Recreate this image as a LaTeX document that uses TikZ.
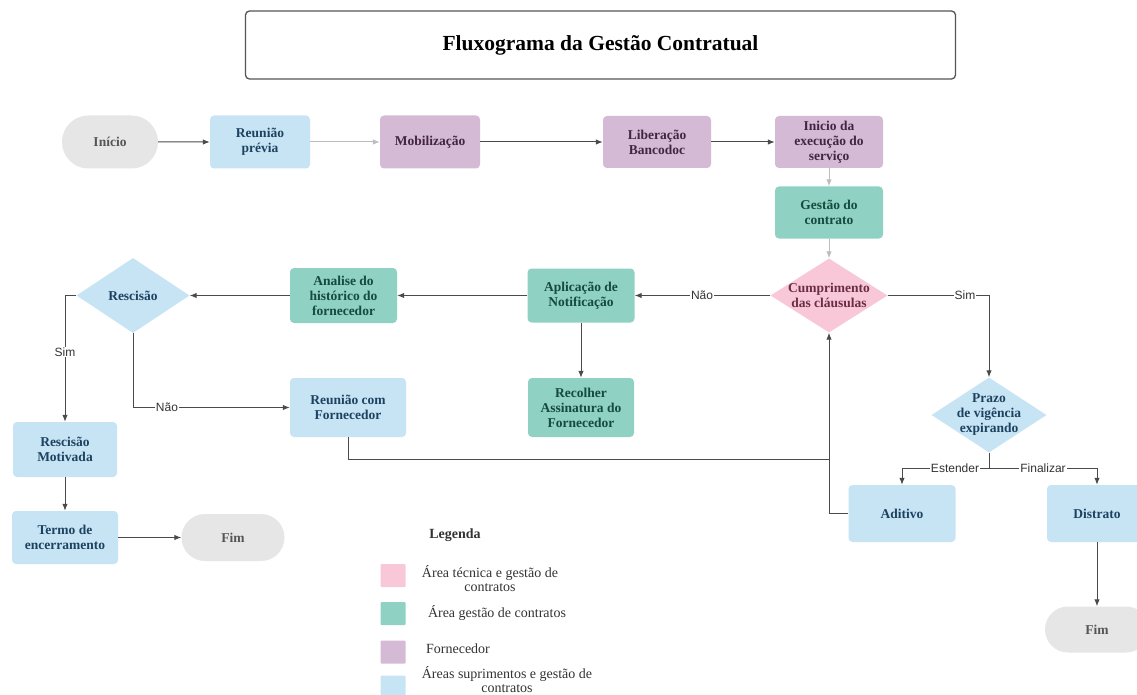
\documentclass[tikz,border=0pt]{standalone}
\usepackage{fontspec}
\setmainfont{Liberation Serif}
\newfontfamily\lblfont{Liberation Sans}
\usetikzlibrary{arrows.meta,shapes.geometric,shapes.misc}
\definecolor{cblue}{HTML}{C7E4F5}
\definecolor{cteal}{HTML}{8FD1C2}
\definecolor{cpurple}{HTML}{D4BAD4}
\definecolor{cpink}{HTML}{F8C8D8}
\definecolor{cgray}{HTML}{E6E6E6}
\definecolor{tblue}{HTML}{1D4260}
\definecolor{tteal}{HTML}{154A3E}
\definecolor{tpurple}{HTML}{432543}
\definecolor{tpink}{HTML}{6B2D45}
\definecolor{tgray}{HTML}{555555}
\definecolor{clink}{HTML}{4A4A4A}
\definecolor{csoft}{HTML}{BDBDBD}
\definecolor{ctext}{HTML}{333333}
\begin{document}
\begin{tikzpicture}[x=1pt,y=-1pt,
  nodefont/.style={font=\bfseries\fontsize{13.5}{15}\selectfont},
  card/.style={rectangle, rounded corners=4pt, inner sep=2pt, align=center, nodefont},
  sz/.style 2 args={minimum width=#1, minimum height=#2},
  bluebox/.style={card, fill=cblue, text=tblue},
  tealbox/.style={card, fill=cteal, text=tteal},
  purplebox/.style={card, fill=cpurple, text=tpurple},
  pill/.style={rounded rectangle, fill=cgray, text=tgray, nodefont, inner sep=2pt},
  dia/.style={diamond, inner sep=0pt},
  diatext/.style={align=center, nodefont, inner sep=0pt},
  link/.style={draw=clink, line width=1pt, -{Latex[length=7pt,width=5.5pt]}},
  plainline/.style={draw=clink, line width=1pt},
  softlink/.style={draw=csoft, line width=1pt, -{Latex[length=7pt,width=5.5pt]}},
  edgelabel/.style={fill=white, inner sep=1pt, font=\lblfont\fontsize{12}{12}\selectfont, text=ctext},
  legsq/.style={rectangle, rounded corners=1pt, inner sep=0pt, minimum width=25pt, minimum height=23pt},
  legtext/.style={align=center, text=ctext, font=\fontsize{14}{14}\selectfont, inner sep=0pt}
]
\path[use as bounding box] (0,0) rectangle (1137,695);
\clip (0,0) rectangle (1137,695);
\fill[white] (0,0) rectangle (1137,695);

% title
\node[draw=tgray, line width=1.3pt, rounded corners=4pt, minimum width=710pt, minimum height=68pt,
      font=\bfseries\fontsize{21.5}{23}\selectfont, text=black] (title) at (600.5,45) {Fluxograma da Gestão Contratual};

% top row
\node[pill, sz={100pt}{53pt}] (inicio) at (110,142) {Início};
\node[bluebox, sz={100pt}{53pt}] (reuniao) at (260,142) {Reunião\\prévia};
\node[purplebox, sz={100pt}{53pt}] (mobil) at (430,142) {Mobilização};
\node[purplebox, sz={108pt}{52pt}] (liber) at (657,142) {Liberação\\Bancodoc};
\node[purplebox, sz={108pt}{52pt}] (exec) at (829,142) {Inicio da\\execução do\\serviço};
\node[tealbox, sz={108pt}{52pt}] (gestao) at (829,212.5) {Gestão do\\contrato};

% decision Cumprimento
\node[dia, fill=cpink, minimum width=117pt, minimum height=74pt] (cumpr) at (829,295.5) {};
\node[diatext, text=tpink] (cumprtxt) at (829,295.5) {Cumprimento\\das cláusulas};

% middle row
\node[tealbox, sz={107pt}{54pt}] (aplic) at (581,295.5) {Aplicação de\\Notificação};
\node[tealbox, sz={107pt}{55pt}] (analise) at (343.5,295.5) {Analise do\\histórico do\\fornecedor};
\node[dia, fill=cblue, minimum width=113pt, minimum height=75pt] (resc) at (133,295.5) {};
\node[diatext, text=tblue] (resctxt) at (133,295.5) {Rescisão};

% left column
\node[bluebox, sz={104pt}{55pt}] (rmot) at (65,449.5) {Rescisão\\Motivada};
\node[bluebox, sz={106pt}{53pt}] (termo) at (65,537.5) {Termo de\\encerramento};
\node[pill, sz={107pt}{47pt}] (fimA) at (233,537.5) {Fim};

% lower middle
\node[bluebox, sz={116pt}{59pt}] (reucom) at (348,407.5) {Reunião com\\Fornecedor};
\node[tealbox, sz={106pt}{59pt}] (recolher) at (581,407.5) {Recolher\\Assinatura do\\Fornecedor};

% right side
\node[dia, fill=cblue, minimum width=115pt, minimum height=75pt] (prazo) at (989,415) {};
\node[diatext, text=tblue] (prazotxt) at (989,415) {Prazo\\de vigência\\expirando};
\node[bluebox, sz={107pt}{57pt}] (aditivo) at (902,513.5) {Aditivo};
\node[bluebox, sz={100pt}{57pt}] (distrato) at (1097,513.5) {Distrato};
\node[pill, sz={108pt}{46pt}] (fimB) at (1097,629.5) {Fim};

% junction points
\coordinate (jrc) at (829,459);
\coordinate (jpz) at (989,468);

% connectors
\draw[link] (inicio) -- (reuniao);
\draw[softlink] (reuniao) -- (mobil);
\draw[link] (mobil) -- (liber);
\draw[link] (liber) -- (exec);
\draw[softlink] (exec) -- (gestao);
\draw[softlink] (gestao) -- (cumpr);
\draw[link] (cumpr.west) -- (aplic.east);
\draw[link] (aplic.west) -- (analise.east);
\draw[link] (analise.west) -- (resc.east);
\draw[link] (resc.west) -| (rmot.north);
\draw[link] (resc.south) |- (reucom.west);
\draw[link] (aplic.south) -- (recolher.north);
\draw[plainline] (reucom.south) |- (jrc);
\draw[link] (aditivo.west) -| (cumpr.south);
\draw[link] (cumpr.east) -| (prazo.north);
\draw[plainline] (prazo.south) -- (jpz);
\draw[link] (jpz) -| (aditivo.north);
\draw[link] (jpz) -| (distrato.north);
\draw[link] (distrato) -- (fimB);
\draw[link] (rmot) -- (termo);
\draw[link] (termo) -- (fimA);

% edge labels
\node[edgelabel] (lnao1) at (702,295.5) {Não};
\node[edgelabel] (lsim1) at (65,352) {Sim};
\node[edgelabel] (lnao2) at (167,407.5) {Não};
\node[edgelabel] (lsim2) at (965,295.5) {Sim};
\node[edgelabel] (lest) at (955,468) {Estender};
\node[edgelabel] (lfin) at (1043,468) {Finalizar};

% legend
\node[font=\bfseries\fontsize{14}{15}\selectfont, text=ctext] (legtitle) at (455,535) {Legenda};
\node[legsq, fill=cpink] (sqpink) at (393,575.5) {};
\node[legtext] (txpink) at (490,579) {Área técnica e gestão de\\contratos};
\node[legsq, fill=cteal] (sqteal) at (393,613.5) {};
\node[legtext] (txteal) at (497,613) {Área gestão de contratos};
\node[legsq, fill=cpurple] (sqpurple) at (393,652) {};
\node[legtext] (txpurple) at (458,649) {Fornecedor};
\node[legsq, fill=cblue] (sqblue) at (393,687) {};
\node[legtext] (txblue) at (507,680) {Áreas suprimentos e gestão de\\contratos};
\end{tikzpicture}
\end{document}
